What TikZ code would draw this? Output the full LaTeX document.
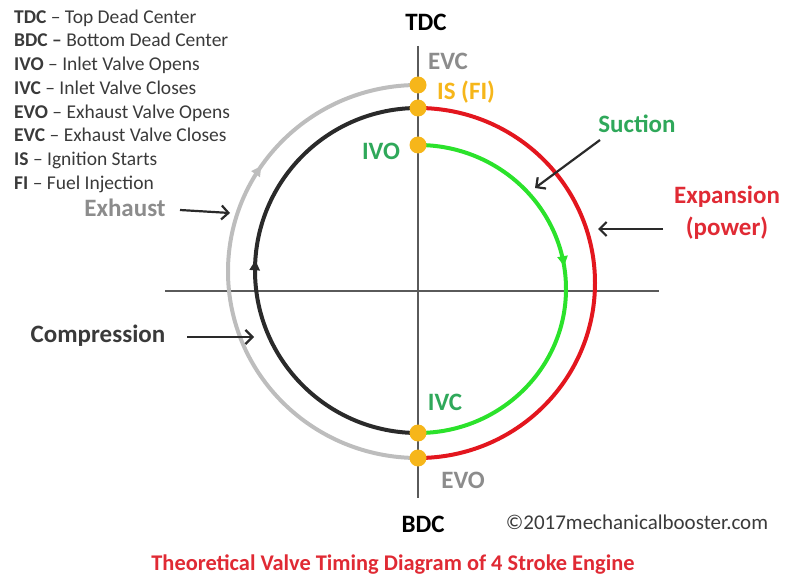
\documentclass[tikz,border=0pt]{standalone}
\usepackage{fontspec}
\setmainfont{Carlito}
\usetikzlibrary{arrows.meta,decorations.markings}

\definecolor{gold}{HTML}{F6B61A}
\definecolor{redline}{HTML}{E3161E}
\definecolor{greenline}{HTML}{2BE22B}
\definecolor{grayline}{HTML}{BDBDBD}
\definecolor{blackline}{HTML}{2A2A2A}
\definecolor{greentext}{HTML}{2FA85A}
\definecolor{redtext}{HTML}{E02A34}
\definecolor{graytext}{HTML}{8C8C8C}
\definecolor{axiscol}{HTML}{5A5A5A}
\definecolor{legtext}{HTML}{3A3A3A}

\tikzset{
  axisline/.style={axiscol, line width=1.3pt},
  stroke/.style={line width=4pt},
  midarrow/.style 2 args={postaction={decorate, decoration={markings,
      mark=at position #1 with {\arrow[#2]{Triangle[length=10pt,width=10pt]}}}}},
  dot/.style={circle, fill=gold, inner sep=0pt, minimum size=17pt},
  pointer/.style={line width=2.2pt, blackline, -{Straight Barb[length=7pt,width=14pt]}},
  lbl/.style={font=\bfseries\fontsize{25}{29}\selectfont, inner sep=0pt},
  legend/.style={anchor=base west, inner sep=0pt, text=legtext,
      font=\fontsize{19.5}{22}\selectfont},
}

\begin{document}
\begin{tikzpicture}[x=1pt,y=-1pt]
\useasboundingbox (0,0) rectangle (785,580);

% axes
\coordinate (axtop) at (418,46);
\coordinate (axbot) at (418,498);
\coordinate (axleft) at (165,291);
\coordinate (axright) at (659,291);
\draw[axisline] (axtop) -- (axbot);
\draw[axisline] (axleft) -- (axright);

% valve event points on the dead-center line
\coordinate (evc) at (418,85);
\coordinate (is)  at (418,108);
\coordinate (ivo) at (418,145);
\coordinate (ivc) at (418,433);
\coordinate (evo) at (418,458);

% exhaust (gray), compression (black), expansion (red), suction (green)
\draw[stroke, grayline, midarrow={0.69}{grayline}]
  (evo) arc[start angle=90, end angle=270, x radius=190, y radius=186.5];
\draw[stroke, blackline, midarrow={0.52}{blackline}]
  (ivc) arc[start angle=90, end angle=270, x radius=163, y radius=162.5];
\draw[stroke, redline]
  (is) arc[start angle=-90, end angle=90, x radius=177, y radius=175];
\draw[stroke, greenline, midarrow={0.45}{greenline}]
  (ivo) arc[start angle=-90, end angle=90, x radius=148, y radius=144];

% event dots
\node[dot] (evcdot) at (evc) {};
\node[dot] (isdot)  at (is)  {};
\node[dot] (ivodot) at (ivo) {};
\node[dot] (ivcdot) at (ivc) {};
\node[dot] (evodot) at (evo) {};

% point labels
\node[lbl, text=black]      (tdc)   at (426,22)  {TDC};
\node[lbl, text=black]      (bdc)   at (423,524) {BDC};
\node[lbl, text=graytext]   (evcl)  at (448,61)  {EVC};
\node[lbl, text=gold]       (isl)   at (466,92)  {IS (FI)};
\node[lbl, text=greentext]  (ivol)  at (381,151) {IVO};
\node[lbl, text=greentext]  (ivcl)  at (445,402) {IVC};
\node[lbl, text=graytext]   (evol)  at (463,480) {EVO};

% stroke labels
\node[lbl, text=greentext]  (suction) at (637,124) {Suction};
\node[lbl, text=redtext, align=center, font=\bfseries\fontsize{25}{32}\selectfont]
  (expansion) at (727,213) {Expansion\\(power)};
\node[lbl, text=graytext]   (exhaust) at (125,208) {Exhaust};
\node[lbl, text=legtext]    (compression) at (98,336) {Compression};

% pointer arrows
\coordinate (sucA) at (600,140);
\coordinate (sucB) at (535,188);
\coordinate (expA) at (663,229);
\coordinate (expB) at (598,229);
\coordinate (exhA) at (180,210);
\coordinate (exhB) at (230,213);
\coordinate (comA) at (187,337);
\coordinate (comB) at (254,337);
\draw[pointer] (sucA) -- (sucB);
\draw[pointer] (expA) -- (expB);
\draw[pointer] (exhA) -- (exhB);
\draw[pointer] (comA) -- (comB);

% abbreviations
\node[legend] (l1) at (14,23.3)  {\textbf{TDC} – Top Dead Center};
\node[legend] (l2) at (14,47.0)  {\textbf{BDC –} Bottom Dead Center};
\node[legend] (l3) at (14,70.7)  {\textbf{IVO} – Inlet Valve Opens};
\node[legend] (l4) at (14,94.4)  {\textbf{IVC} – Inlet Valve Closes};
\node[legend] (l5) at (14,118.1) {\textbf{EVO} – Exhaust Valve Opens};
\node[legend] (l6) at (14,141.8) {\textbf{EVC} – Exhaust Valve Closes};
\node[legend] (l7) at (14,165.5) {\textbf{IS} – Ignition Starts};
\node[legend] (l8) at (14,189.2) {\textbf{FI} – Fuel Injection};

% credit and title
\node[inner sep=0pt, text=legtext, font=\fontsize{21}{24}\selectfont]
  (credit) at (637,522) {©2017mechanicalbooster.com};
\node[inner sep=0pt, text=redtext, font=\bfseries\fontsize{22.4}{26}\selectfont]
  (title) at (393,565) {Theoretical Valve Timing Diagram of 4 Stroke Engine};
\end{tikzpicture}
\end{document}
